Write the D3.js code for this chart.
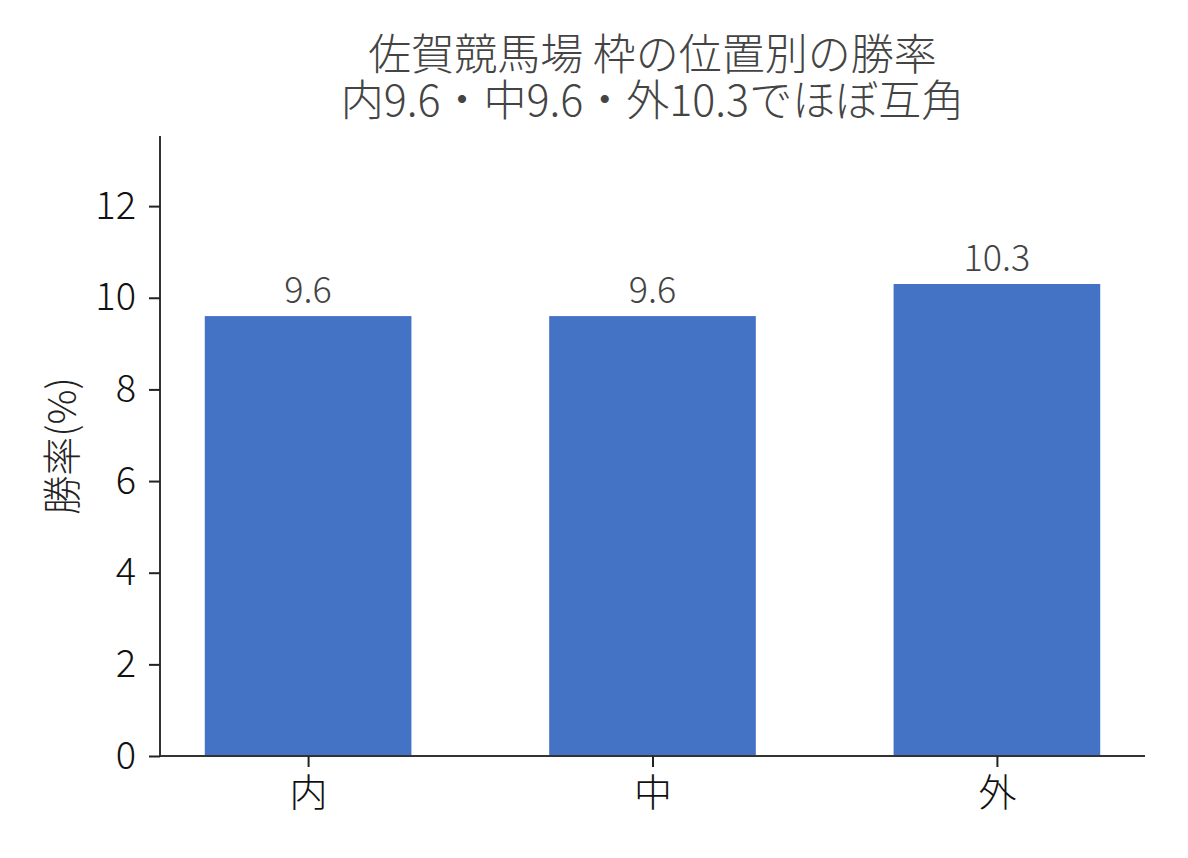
<!DOCTYPE html>
<html><head><meta charset="utf-8">
<script src="https://cdn.jsdelivr.net/npm/d3@7"></script>
<style>
html,body{margin:0;padding:0;background:#fff;}
text{font-family:"Noto Sans CJK JP","Noto Sans",sans-serif;font-weight:300;}
</style></head>
<body>
<svg id="chart" width="1188" height="858"></svg>
<script>
const categories = ["内", "中", "外"];
const winRates = [9.6, 9.6, 10.3];
const yTicks = [0, 2, 4, 6, 8, 10, 12];
const titleLines = ["佐賀競馬場 枠の位置別の勝率", "内9.6・中9.6・外10.3でほぼ互角"];
const yLabel = "勝率(%)";

const svg = d3.select("#chart");
const m = {left:160, right:1145, top:136, bottom:756};
const x = d3.scaleLinear().domain([-0.43, 2.43]).range([m.left, m.right]);
const y = d3.scaleLinear().domain([0, 13.53]).range([m.bottom, m.top]);
const bw = 0.6;
const FF = '"Noto Sans CJK JP","Noto Sans",sans-serif';

svg.selectAll("rect.bar").data(winRates).join("rect")
  .attr("class","bar")
  .attr("x",(d,i)=>x(i-bw/2))
  .attr("width",(d,i)=>x(i+bw/2)-x(i-bw/2))
  .attr("y",d=>y(d))
  .attr("height",d=>y(0)-y(d))
  .attr("fill","#4472C4");

svg.selectAll("text.vl").data(winRates).join("text")
  .attr("class","vl")
  .attr("x",(d,i)=>x(i))
  .attr("y",d=>y(d)-13)
  .attr("text-anchor","middle")
  .attr("font-size",36)
  .attr("fill","#444")
  .text(d=>d.toFixed(1));

const yAxis = svg.append("g").attr("transform",`translate(${m.left},0)`)
  .call(d3.axisLeft(y).tickValues(yTicks).tickSize(11).tickPadding(13).tickFormat(d3.format("d")));
const xAxis = svg.append("g").attr("transform",`translate(0,${m.bottom})`)
  .call(d3.axisBottom(x).tickValues([0,1,2]).tickSize(11).tickPadding(12).tickFormat(i=>categories[i]));
[yAxis,xAxis].forEach(g=>{
  g.select(".domain").attr("stroke","#333").attr("stroke-width",2);
  g.selectAll(".tick line").attr("stroke","#222").attr("stroke-width",2);
  g.selectAll(".tick text").attr("fill","#111").attr("font-size",38)
   .style("font-family",FF).style("font-weight",300);
});
yAxis.select(".domain").attr("d",`M0,${m.bottom}V${m.top}`);
xAxis.select(".domain").attr("d",`M${m.left},0H${m.right}`);

svg.append("text")
  .attr("transform",`translate(76,${(m.top+m.bottom)/2}) rotate(-90)`)
  .attr("text-anchor","middle")
  .attr("font-size",39).attr("fill","#222")
  .text(yLabel);

const title = svg.append("text")
  .attr("x",(m.left+m.right)/2)
  .attr("y",70)
  .attr("text-anchor","middle")
  .attr("font-size",43).attr("fill","#444");
title.selectAll("tspan").data(titleLines).join("tspan")
  .attr("x",(m.left+m.right)/2)
  .attr("dy",(d,i)=>i===0?0:46)
  .text(d=>d);
</script>
</body></html>
